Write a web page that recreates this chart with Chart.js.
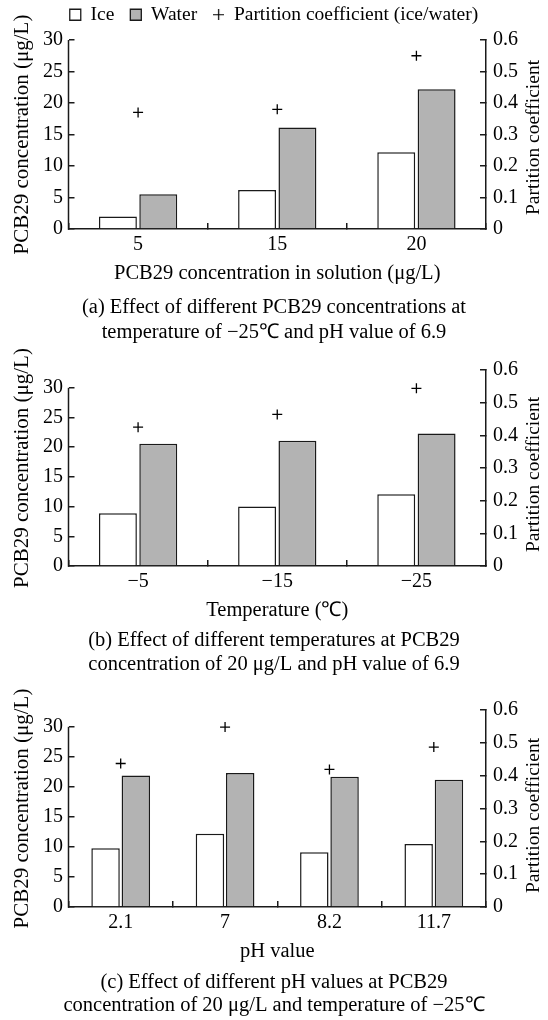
<!DOCTYPE html>
<html><head><meta charset="utf-8">
<script src="https://cdn.jsdelivr.net/npm/chart.js@4.4.1/dist/chart.umd.min.js"></script>
<style>
html,body{margin:0;padding:0;background:#fff;width:548px;height:1020px;overflow:hidden;position:relative;}
.wrap{position:absolute;left:0;width:548px;}
canvas{display:block;}
</style></head><body>
<div class="wrap" style="top:-11px;height:360px"><canvas id="ca"></canvas></div>
<div class="wrap" style="top:345px;height:336px"><canvas id="cb"></canvas></div>
<div class="wrap" style="top:685px;height:334px"><canvas id="cc"></canvas></div>
<script>
// ---- data ----
const labelsA = ['5', '15', '20'];
const iceA = [2.0, 6.2, 12.2];
const waterA = [5.5, 16.1, 22.2];
const kA = [0.37, 0.38, 0.55];

const labelsB = ['\u22125', '\u221215', '\u221225'];
const iceB = [8.9, 10.0, 12.1];
const waterB = [20.6, 21.1, 22.3];
const kB = [0.425, 0.464, 0.544];

const labelsC = ['2.1', '7', '8.2', '11.7'];
const iceC = [9.8, 12.2, 9.1, 10.5];
const waterC = [21.9, 22.3, 21.7, 21.2];
const kC = [0.437, 0.548, 0.419, 0.487];

const leftTicksMax = 30;
const rightTicks = {min: 0, max: 0.6, step: 0.1};

const xTitleA = 'PCB29 concentration in solution (\u03bcg/L)';
const xTitleB = 'Temperature (\u2103)';
const xTitleC = 'pH value';
const captionA = ['(a) Effect of different PCB29 concentrations at', 'temperature of \u221225\u2103 and pH value of 6.9'];
const captionB = ['(b) Effect of different temperatures at PCB29', 'concentration of 20 \u03bcg/L and pH value of 6.9'];
const captionC = ['(c) Effect of different pH values at PCB29', 'concentration of 20 \u03bcg/L and temperature of \u221225\u2103'];
const yTitle = 'PCB29 concentration (\u03bcg/L)';
const y1Title = 'Partition coefficient';
const seriesNames = ['Ice', 'Water', 'Partition coefficient (ice/water)'];

// ---- style ----
const FONT = '"Liberation Serif", "Times New Roman", serif';
const AX = '#1a1a1a';
Chart.defaults.font.family = FONT;
Chart.defaults.color = '#000';

const plusImg = document.createElement('canvas');
plusImg.width = 11; plusImg.height = 11;
(function(){ const g = plusImg.getContext('2d'); g.strokeStyle = '#000'; g.lineWidth = 1.2;
  g.beginPath(); g.moveTo(0, 5.5); g.lineTo(11, 5.5); g.moveTo(5.5, 0); g.lineTo(5.5, 11); g.stroke(); })();

const decor = {
  id: 'decor',
  afterDraw(chart) {
    const ctx = chart.ctx;
    const y = chart.scales.y;
    const x0 = chart.chartArea.left;
    ctx.save();
    ctx.strokeStyle = AX; ctx.lineWidth = 1.5;
    ctx.beginPath();
    ctx.moveTo(x0, y.getPixelForValue(0) + 0.75);
    ctx.lineTo(x0, y.getPixelForValue(leftTicksMax));
    ctx.stroke();
    ctx.fillStyle = '#000';
    ctx.font = '19.5px ' + FONT;
    ctx.translate(chart.width - 14, y.getPixelForValue(0) - 14);
    ctx.rotate(-Math.PI / 2);
    ctx.textAlign = 'left'; ctx.textBaseline = 'middle';
    ctx.fillText(y1Title, 0, 0);
    ctx.restore();
  }
};

function build(id, labels, ice, water, k, c) {
  const tickFont = {family: FONT, size: 20};
  const scales = {
    x: {
      offset: true,
      grid: {display: true, drawOnChartArea: false, drawTicks: true, tickLength: -6, color: AX, lineWidth: 1.5, offset: true},
      border: {display: true, color: AX, width: 1.5},
      ticks: {color: '#000', font: tickFont, padding: 10, maxRotation: 0, autoSkip: false},
      title: {display: true, text: c.xTitle, color: '#000', font: {family: FONT, size: 20.5}, padding: {top: 0, bottom: 0}},
      afterFit(s) { s.height = 57; }
    },
    y: {
      position: 'left', min: 0, max: c.leftMax,
      grid: {display: true, drawOnChartArea: false, drawTicks: true, tickLength: -6, color: AX, lineWidth: 1.5},
      border: {display: false},
      ticks: {stepSize: 5, includeBounds: false, color: '#000', font: tickFont, padding: 11.5},
      title: {display: true, text: yTitle, color: '#000', font: {family: FONT, size: 21}, padding: {top: 9.5, bottom: 0}},
      afterFit(s) { s.width = 68.5; }
    },
    y1: {
      position: 'right', min: rightTicks.min, max: rightTicks.max,
      grid: {display: true, drawOnChartArea: false, drawTicks: true, tickLength: -6, color: AX, lineWidth: 1.5},
      border: {display: true, color: AX, width: 1.5},
      ticks: {stepSize: rightTicks.step, color: '#000', font: tickFont, padding: 13},
      afterFit(s) { s.width = 62; }
    }
  };
  if (c.spacer) {
    scales.xs = {
      type: 'category', position: 'top', display: true,
      grid: {display: false}, border: {display: false}, ticks: {display: false},
      afterFit(s) { s.height = c.spacer; }
    };
  }
  return new Chart(document.getElementById(id), {
    type: 'bar',
    data: {
      labels: labels,
      datasets: [
        {label: seriesNames[0], data: ice, xAxisID: 'x', yAxisID: 'y', backgroundColor: '#ffffff', borderColor: AX, borderWidth: 1.5,
         categoryPercentage: 0.58, barPercentage: 0.94},
        {label: seriesNames[1], data: water, xAxisID: 'x', yAxisID: 'y', backgroundColor: '#b3b3b3', borderColor: AX, borderWidth: 1.5,
         categoryPercentage: 0.58, barPercentage: 0.94},
        {type: 'line', label: seriesNames[2], data: k, xAxisID: 'x', yAxisID: 'y1', showLine: false,
         pointStyle: 'cross', pointRadius: 5, pointHoverRadius: 5, pointBorderWidth: 1.3,
         borderColor: '#000', pointBorderColor: '#000', backgroundColor: 'transparent'}
      ]
    },
    options: {
      responsive: true, maintainAspectRatio: false, animation: false, devicePixelRatio: 1,
      layout: {padding: {top: c.padTop, bottom: 0, left: 0, right: 0}},
      scales: scales,
      plugins: {
        legend: {
          display: !!c.legend, position: 'top',
          labels: {
            usePointStyle: true, boxWidth: 11, boxHeight: 11, padding: 16, color: '#000',
            font: {family: FONT, size: 19.5},
            generateLabels(chart) {
              const items = Chart.defaults.plugins.legend.labels.generateLabels(chart);
              items[0].pointStyle = 'rect'; items[0].fillStyle = '#ffffff'; items[0].strokeStyle = AX; items[0].lineWidth = 1.3;
              items[1].pointStyle = 'rect'; items[1].fillStyle = '#b3b3b3'; items[1].strokeStyle = AX; items[1].lineWidth = 1.3;
              items[2].pointStyle = plusImg;
              return items;
            }
          }
        },
        title: {
          display: true, position: 'bottom', text: c.caption, color: '#000',
          font: {family: FONT, size: 20.5, weight: 'normal', lineHeight: c.capLH / 20.5},
          padding: {top: c.capPT, bottom: c.capPB}
        },
        tooltip: {enabled: false}
      }
    },
    plugins: [decor]
  });
}

build('ca', labelsA, iceA, waterA, kA, {xTitle: xTitleA, caption: captionA, leftMax: 30, padTop: 0, legend: true, spacer: 5.5, capLH: 25, capPT: 9.5, capPB: 3.5});
build('cb', labelsB, iceB, waterB, kB, {xTitle: xTitleB, caption: captionB, leftMax: 33, padTop: 16.5, legend: false, capLH: 24, capPT: 6, capPB: 4});
build('cc', labelsC, iceC, waterC, kC, {xTitle: xTitleC, caption: captionC, leftMax: 32.8, padTop: 16.7, legend: false, capLH: 23, capPT: 7, capPB: 2});
</script>
</body></html>
